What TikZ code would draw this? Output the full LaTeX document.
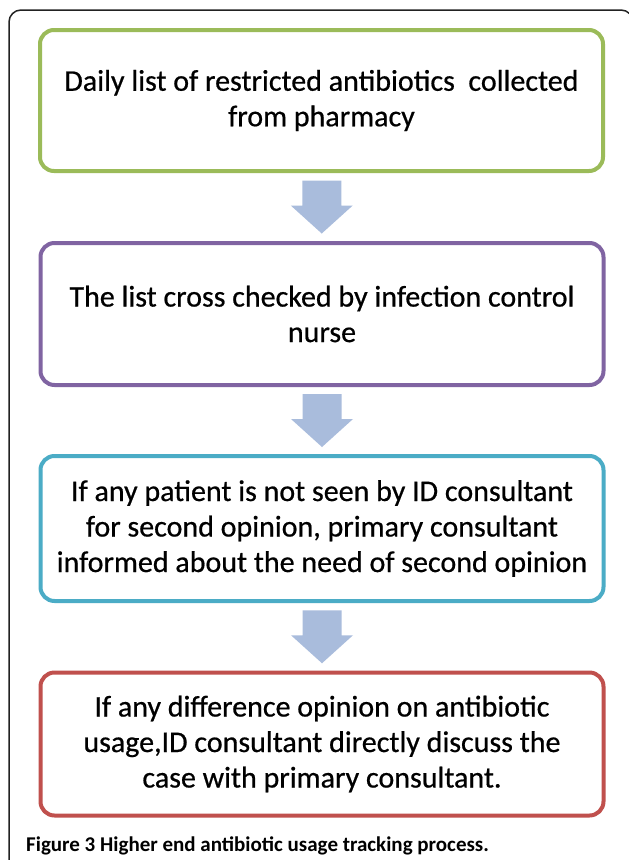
\documentclass[tikz,border=0pt]{standalone}
\usepackage{fontspec}
\setmainfont{Carlito}
\newfontfamily\boxfont[FakeBold=0.6]{Carlito}
\usetikzlibrary{calc}

\definecolor{stepgreen}{HTML}{9BBB59}
\definecolor{steppurple}{HTML}{8064A2}
\definecolor{stepcyan}{HTML}{4BACC6}
\definecolor{stepred}{HTML}{C0504D}
\definecolor{arrowblue}{HTML}{A9BCDC}
\definecolor{framegray}{HTML}{222222}

\tikzset{
  stepbox/.style={draw=#1, line width=4pt, rounded corners=14pt, fill=white,
    minimum width=563pt, minimum height=141pt, align=center,
    font=\boxfont\fontsize{30}{35.5}\selectfont, inner sep=0pt},
  flowarrow/.style={fill=arrowblue, draw=none},
}

% block arrow between two vertically stacked boxes
\newcommand{\blockarrow}[2]{%
  \path let \p1 = ($(#1.south)!0.5!(#2.north)$) in
    [flowarrow] (\x1-19.5pt,\y1+26.5pt) -- (\x1+19.5pt,\y1+26.5pt)
    -- (\x1+19.5pt,\y1+1.5pt) -- (\x1+31pt,\y1+1.5pt)
    -- (\x1,\y1-26.5pt) -- (\x1-31pt,\y1+1.5pt)
    -- (\x1-19.5pt,\y1+1.5pt) -- cycle;}

\begin{document}
\begin{tikzpicture}[x=1pt,y=-1pt]
  \useasboundingbox (0,0) rectangle (629,860);
  \clip (0,0) rectangle (629,860);
  \fill[white] (0,0) rectangle (629,860);

  % outer figure frame, open at the bottom
  \draw[framegray, line width=1.5pt, rounded corners=12pt]
    (9,880) -- (9,10) -- (633,10) -- (633,880);

  \node[stepbox=stepgreen]  (b1) at (321.5,100.5)
    {Daily list of restricted antibiotics\ \ collected\\from pharmacy};
  \node[stepbox=steppurple, minimum height=142pt] (b2) at (322,314)
    {The list cross checked by infection control\\nurse};
  \node[stepbox=stepcyan, minimum height=145pt]   (b3) at (322,528.5)
    {If any patient is not seen by ID consultant\\for second opinion, primary consultant\\informed about the need of second opinion};
  \node[stepbox=stepred, minimum height=143pt]    (b4) at (322,744)
    {If any difference opinion on antibiotic\\usage,ID consultant directly discuss the\\case with primary consultant.};

  \blockarrow{b1}{b2}
  \blockarrow{b2}{b3}
  \blockarrow{b3}{b4}

  \node[anchor=base west, inner sep=0pt, font=\fontsize{21}{24}\selectfont\bfseries]
    (cap) at (26,851) {Figure 3 Higher end antibiotic usage tracking process.};
\end{tikzpicture}
\end{document}
